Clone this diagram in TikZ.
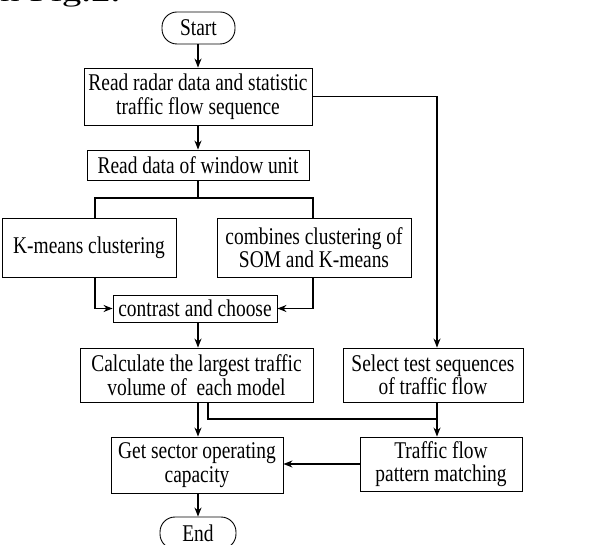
\documentclass[tikz,border=0pt]{standalone}
\usepackage{fontspec}
\usepackage{graphicx}
\setmainfont{Liberation Serif}
\newfontfamily\condserif[FakeStretch=0.81]{Liberation Serif}
\usetikzlibrary{arrows.meta}
\begin{document}
\begin{tikzpicture}[x=1pt,y=-1pt,
  box/.style={draw,line width=0.9pt,align=center,inner sep=1pt,font=\condserif\fontsize{24}{23.5}\selectfont},
  term/.style={box,rounded corners=15pt},
  con/.style={line width=1.2pt},
  arr/.style={con,-{Stealth[length=9pt,width=7pt]}}]
\useasboundingbox (0,0) rectangle (600,545);
\begin{scope}
\clip (0,0) rectangle (600,545);
\node[anchor=base west,font=\fontsize{26}{26}\selectfont,inner sep=0pt] (cap) at (0,1.5) {\scalebox{1.5}[1]{n Fig.2.}};
\node[term,minimum width=73pt,minimum height=32pt] (start) at (198.5,28) {Start};
\node[term,minimum width=76pt,minimum height=32pt] (end) at (198,533) {End};
\end{scope}
\node[box,minimum width=228pt,minimum height=57pt] (read) at (198,96.5) {Read radar data and statistic\\traffic flow sequence};
\node[box,minimum width=222pt,minimum height=30pt] (win) at (198,165) {Read data of window unit};
\node[box,minimum width=174pt,minimum height=59pt] (km) at (89,247.5) {K-means clustering};
\node[box,minimum width=194pt,minimum height=59pt] (som) at (314,247.5) {combines clustering of\\SOM and K-means};
\node[box,minimum width=164pt,minimum height=27pt] (cc) at (195,308.5) {contrast and choose};
\node[box,minimum width=233pt,minimum height=54pt] (calc) at (196.5,375) {Calculate the largest traffic\\volume of \ each model};
\node[box,minimum width=180pt,minimum height=54pt] (sel) at (433,375) {Select test sequences\\of traffic flow};
\node[box,minimum width=172pt,minimum height=56pt] (get) at (197,465) {Get sector operating\\capacity};
\node[box,minimum width=162pt,minimum height=54pt] (tfp) at (441,464) {Traffic flow\\pattern matching};
\coordinate (jl) at (95,198);
\coordinate (jr) at (313,198);
\coordinate (rx) at (437,97);
\coordinate (mj) at (437,419);
\coordinate (cx) at (208,419);
\coordinate (ax) at (198,0);
\draw[arr] (start.south -| ax) -- (read.north -| ax);
\draw[arr] (read.south -| ax) -- (win.north -| ax);
\draw[con] (win.south -| ax) -- (ax |- jl);
\draw[con] (jl |- km.north) -- (jl) -- (jr) -- (jr |- som.north);
\draw[arr] (jl |- km.south) |- (cc.west);
\draw[arr] (jr |- som.south) |- (cc.east);
\draw[arr] (cc.south -| ax) -- (calc.north -| ax);
\draw[arr] (read.east) -| (rx |- sel.north);
\draw[arr] (calc.south -| ax) -- (get.north -| ax);
\draw[con] (cx |- calc.south) -- (cx) -- (mj);
\draw[arr] (rx |- sel.south) -- (rx |- tfp.north);
\draw[arr] (tfp.west) -- (tfp.west -| get.east);
\draw[arr] (get.south -| ax) -- (end.north -| ax);
\end{tikzpicture}
\end{document}
